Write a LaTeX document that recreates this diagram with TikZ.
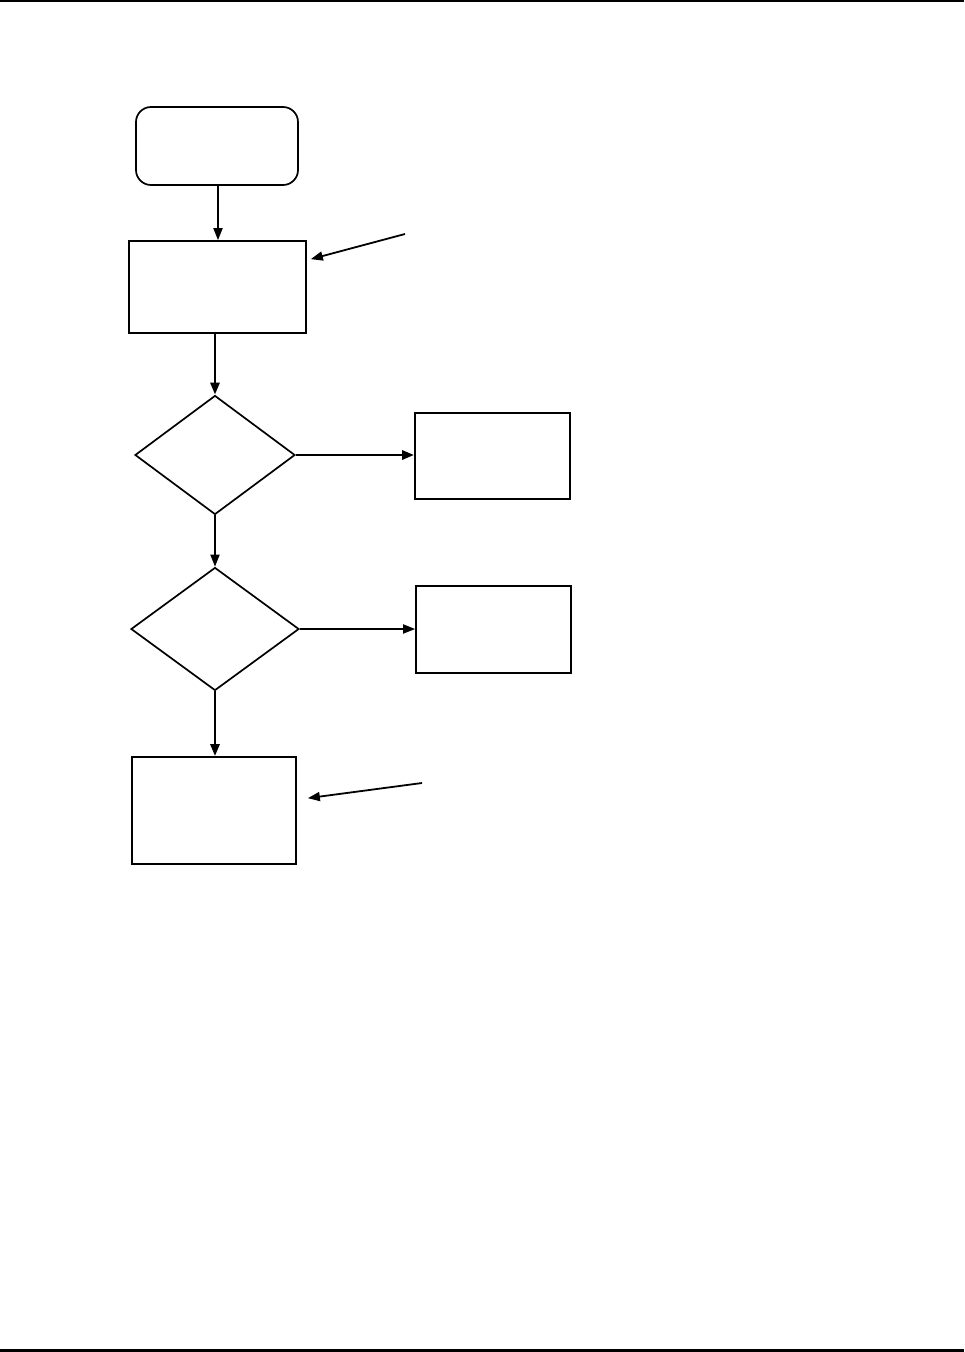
\documentclass[tikz,border=0pt]{standalone}
\usetikzlibrary{shapes.geometric,arrows.meta}

\begin{document}
\begin{tikzpicture}[x=1pt,y=-1pt,
  box/.style={draw,line width=1.7pt,inner sep=0pt},
  decision/.style={draw,diamond,line width=1.7pt,inner sep=0pt},
  flow/.style={line width=1.8pt,-{Triangle[length=12pt,width=9pt]}},
  heavyflow/.style={line width=2.8pt,-{Triangle[length=12pt,width=9pt]}}]
\useasboundingbox (0,0) rectangle (964,1352);
\draw[line width=2.5pt] (0,1.2) -- (964,1.2);
\draw[line width=2.5pt] (0,1350.5) -- (964,1350.5);
\node[box,rounded corners=15pt,minimum width=162pt,minimum height=78pt] (start) at (217,146) {};
\node[box,minimum width=177pt,minimum height=92pt] (setup) at (217.5,287) {};
\node[decision,minimum width=160pt,minimum height=119pt] (testa) at (215,455) {};
\node[box,minimum width=155pt,minimum height=86pt] (outa) at (492.5,456) {};
\node[decision,minimum width=168pt,minimum height=123pt] (testb) at (215,629) {};
\node[box,minimum width=155pt,minimum height=87pt] (outb) at (493.5,629.5) {};
\node[box,minimum width=164pt,minimum height=107pt] (finish) at (214,810.5) {};
\coordinate (notea) at (405,234);
\coordinate (noteb) at (422,783);
\draw[flow] (start.south -| 218,0) -- (setup.north -| 218,0);
\draw[heavyflow] (setup.south -| testa) -- (testa.north);
\draw[heavyflow] (testa.east) -- (testa.east -| outa.west);
\draw[flow] (testa.south) -- (testb.north);
\draw[flow] (testb.east) -- (testb.east -| outb.west);
\draw[heavyflow] (testb.south) -- (testb.south |- finish.north);
\draw[flow] (notea) -- ([shift={(4,19)}]setup.north east);
\draw[flow] (noteb) -- ([shift={(11,42)}]finish.north east);
\end{tikzpicture}
\end{document}
